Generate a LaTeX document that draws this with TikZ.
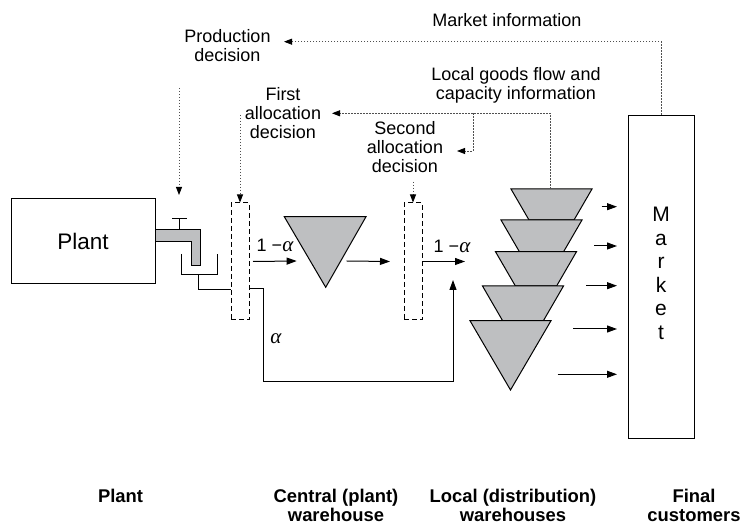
\documentclass[tikz,border=0pt]{standalone}
\usepackage{fontspec}
\setmainfont{Liberation Sans}
\newfontfamily\greekfont{Liberation Serif}
\usetikzlibrary{arrows.meta}
\definecolor{stockgray}{RGB}{190,191,193}
\definecolor{infoline}{RGB}{80,80,80}
\newcommand{\shareof}{{\greekfont\itshape\fontsize{21}{21}\selectfont α}}
\tikzset{
  flow/.style={line width=1pt, -{Triangle[length=10pt,width=7pt]}},
  plain/.style={line width=1pt},
  info/.style={infoline, line width=0.9pt, dash pattern=on 1.5pt off 1.5pt},
  infoarrow/.style={info, -{Triangle[length=8pt,width=6pt,color=black]}},
  decisionbox/.style={draw, line width=1pt, dash pattern=on 5pt off 3pt,
    minimum width=18pt, minimum height=117pt, inner sep=0pt},
  stock/.style={fill=stockgray, draw=black, line width=1pt, line join=miter},
  lbl/.style={font=\fontsize{18}{19}\selectfont, align=center, inner sep=0pt},
  caption/.style={font=\bfseries\fontsize{18.4}{19}\selectfont, align=center, inner sep=0pt},
  letter/.style={font=\fontsize{21}{23}\selectfont, anchor=base, inner sep=0pt}
}
\begin{document}
\begin{tikzpicture}[x=1pt,y=-1pt]
\useasboundingbox (0,0) rectangle (742,526);

% ---------- plant and its tap ----------
\node[draw, line width=1pt, minimum width=144pt, minimum height=85pt, inner sep=0pt,
      font=\fontsize{22.5}{24}\selectfont] (plant) at (83,241.5) {Plant};
\filldraw[stock] (155,230) -- (200,230) -- (200,266) -- (191,266) -- (191,242) -- (155,242) -- cycle;
\draw[plain] (179,230) -- (179,219) (172,219) -- (187,219);
\draw[plain] (181,254) -- (181,275) -- (217,275) -- (217,254);

% ---------- allocation decision points ----------
\node[decisionbox] (alloc1) at (240,261.5) {};
\node[decisionbox] (alloc2) at (413,261.5) {};

\coordinate (drain) at (198,290);
\draw[plain] (198,275) -- (drain) -- (alloc1.west |- drain);

% share alpha bypassing the central warehouse
\coordinate (bend) at (263,289);
\coordinate (mix) at (453,280);
\draw[flow] (alloc1.east |- bend) -- (bend) -- (263,382) -- (453,382) -- (mix);
\node[lbl] (alpha) at (276,339) {\shareof};

% ---------- central warehouse ----------
\coordinate (cw) at (325.7,261);
\filldraw[stock] (284.3,216.7) -- (366,216.7) -- (325.7,287.3) -- cycle;

\draw[flow] ([xshift=3.5pt]alloc1.east) -- ([xshift=-29pt]cw);
\node[lbl] (share1) at (275,245) {1 −\shareof};
\draw[flow] ([xshift=21pt]cw) -- ([xshift=-13.5pt]alloc2.west);
\coordinate (lw) at (465,261.5);
\draw[flow] (alloc2.east) -- (lw);
\node[lbl] (share2) at (452,246) {1 −\shareof};

% ---------- local warehouses ----------
\filldraw[stock] (511,189) -- (592,189) -- (574,220) -- (529,220) -- cycle;
\filldraw[stock] (501,220) -- (582,220) -- (563.6,251.7) -- (519.4,251.7) -- cycle;
\filldraw[stock] (495.5,251.7) -- (576.5,251.7) -- (556.6,286) -- (515.4,286) -- cycle;
\filldraw[stock] (482.5,286) -- (563.5,286) -- (543.4,320.7) -- (502.6,320.7) -- cycle;
\filldraw[stock] (470,320.7) -- (551,320.7) -- (510.5,390) -- cycle;
\coordinate (lwtop) at (550,189);

% ---------- market ----------
\node[draw, line width=1pt, minimum width=66pt, minimum height=323pt, inner sep=0pt]
  (market) at (661,276.7) {};
\foreach \ch [count=\i] in {M,a,r,k,e,t}
  \node[letter] (m\i) at (661,{222+23.5*(\i-1)}) {\ch};

\foreach \sx/\sy [count=\i] in {601.7/206.7, 594/246, 586/285.7, 573/329, 557.7/374.3}{
  \coordinate (s\i) at (\sx,\sy);
  \coordinate (t\i) at (617,\sy);
  \draw[flow] (s\i) -- (t\i);
}

% ---------- information flows ----------
\coordinate (proddec) at (284,41.7);
\draw[infoarrow] (market.north) |- (proddec);
\node[lbl] (market info) at (507,20) {Market information};
\node[lbl] (prod) at (227.5,45.5) {Production\\decision};

\coordinate (pdtop) at (179,88);
\coordinate (pdend) at (179,195);
\draw[infoarrow] (pdtop) -- (pdend);

\coordinate (firstdec) at (332,113.3);
\draw[infoarrow] (lwtop) |- (firstdec);
\coordinate (branch) at (473,113.3);
\coordinate (seconddec) at (457,151);
\draw[infoarrow] (branch) |- (seconddec);
\node[lbl] (local info) at (516,85.5) {Local goods flow and\\capacity information};
\node[lbl] (first) at (283,113) {First\\allocation\\decision};
\node[lbl] (second) at (405,147) {Second\\allocation\\decision};

\coordinate (fdtop) at (240,115);
\draw[infoarrow] (fdtop) -- (alloc1.north);
\coordinate (sdtop) at (413,182);
\draw[infoarrow] (sdtop) -- (alloc2.north);

% ---------- stage captions ----------
\node[caption] (cap plant) at (120.5,496) {Plant};
\node[caption] (cap central) at (336,505) {Central (plant)\\warehouse};
\node[caption] (cap local) at (513,505) {Local (distribution)\\warehouses};
\node[caption] (cap final) at (694,505) {Final\\customers};
\end{tikzpicture}
\end{document}
